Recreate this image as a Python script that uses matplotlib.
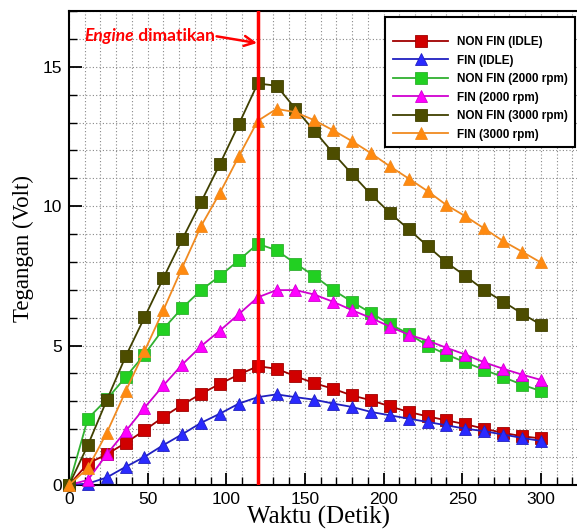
import numpy as np
import matplotlib
matplotlib.use("Agg")
import matplotlib.pyplot as plt
from matplotlib.ticker import MultipleLocator
from matplotlib.patches import Rectangle

# Data: tegangan (Volt) tiap 12 detik, 0 - 300 detik
waktu = np.arange(0, 301, 12)

non_fin_idle = [0, 0.77, 1.1, 1.51, 1.96, 2.44, 2.88, 3.27, 3.63, 3.96, 4.26, 4.17, 3.9,
                3.65, 3.45, 3.21, 3.04, 2.82, 2.62, 2.46, 2.32, 2.18, 2.02, 1.87, 1.75, 1.67]
fin_idle = [0, 0.05, 0.27, 0.65, 1.01, 1.43, 1.82, 2.23, 2.56, 2.92, 3.15, 3.25, 3.15,
            3.06, 2.92, 2.8, 2.62, 2.5, 2.38, 2.26, 2.14, 2.02, 1.93, 1.81, 1.69, 1.58]
non_fin_2000 = [0, 2.38, 3.07, 3.87, 4.68, 5.6, 6.35, 6.99, 7.5, 8.06, 8.65, 8.42, 7.94,
                7.5, 6.99, 6.57, 6.17, 5.77, 5.42, 5.0, 4.68, 4.4, 4.13, 3.87, 3.6, 3.37]
fin_2000 = [0, 0.18, 1.1, 1.93, 2.77, 3.57, 4.32, 4.98, 5.54, 6.13, 6.73, 6.99, 6.99,
            6.83, 6.57, 6.27, 5.99, 5.68, 5.39, 5.18, 4.92, 4.68, 4.4, 4.17, 3.96, 3.77]
non_fin_3000 = [0, 1.43, 3.04, 4.61, 6.01, 7.42, 8.81, 10.15, 11.52, 12.94, 14.4, 14.32, 13.49,
                12.7, 11.9, 11.15, 10.42, 9.76, 9.17, 8.57, 7.98, 7.5, 6.99, 6.58, 6.15, 5.75]
fin_3000 = [0, 0.6, 1.87, 3.36, 4.8, 6.27, 7.8, 9.29, 10.48, 11.79, 13.06, 13.49, 13.37,
            13.08, 12.72, 12.33, 11.9, 11.43, 10.99, 10.54, 10.04, 9.64, 9.2, 8.75, 8.37, 7.98]

series = [
    ("NON FIN (IDLE)", non_fin_idle, "s", "#a00000", "#d00000"),
    ("FIN (IDLE)", fin_idle, "^", "#2020c0", "#2a2aff"),
    ("NON FIN (2000 rpm)", non_fin_2000, "s", "#30b030", "#22d022"),
    ("FIN (2000 rpm)", fin_2000, "^", "#d000d0", "#ff00ff"),
    ("NON FIN (3000 rpm)", non_fin_3000, "s", "#404000", "#4d4d00"),
    ("FIN (3000 rpm)", fin_3000, "^", "#f08a20", "#ff8a10"),
]

waktu_mati = 120

fig = plt.figure(figsize=(5.77, 5.29), dpi=100)
ax = fig.add_axes([69 / 577, 44 / 529, 519 / 577, 474 / 529])

for label, y, marker, lc, mc in series:
    ax.plot(waktu, y, color=lc, lw=1.3, marker=marker, markersize=9,
            markerfacecolor=mc, markeredgecolor=lc, markeredgewidth=0.6,
            label=label, clip_on=False, zorder=3)

# garis saat engine dimatikan
ax.axvline(waktu_mati, color="red", lw=2.5, zorder=5)

t1 = ax.text(10, 16.1, "Engine", color="red", fontsize=12.5, fontweight="bold",
             fontstyle="italic", family="Lato", va="center", ha="left")
t2 = ax.annotate(" dimatikan", xy=(1, 0), xycoords=t1, color="red", fontsize=12.5,
                 fontweight="bold", family="Lato", va="bottom", ha="left")
ax.annotate("", xy=(waktu_mati - 0.5, 15.85), xytext=(1, 0.5), textcoords=t2,
            arrowprops=dict(arrowstyle="->", color="red", lw=1.8,
                            mutation_scale=18, shrinkA=1, shrinkB=0))

ax.set_xlim(0, 330)
ax.set_ylim(0, 17)
ax.xaxis.set_major_locator(MultipleLocator(50))
ax.xaxis.set_minor_locator(MultipleLocator(10))
ax.yaxis.set_major_locator(MultipleLocator(5))
ax.yaxis.set_minor_locator(MultipleLocator(1))
ax.grid(which="both", color="#888888", linestyle=(0, (1, 2)), lw=0.8)
ax.set_axisbelow(True)

ax.tick_params(which="major", direction="in", length=9, width=1.3,
               labelsize=12.5, pad=5)
ax.tick_params(which="minor", direction="in", length=6, width=1.0)
for lab in ax.get_xticklabels() + ax.get_yticklabels():
    lab.set_family("Liberation Sans")
for s in ax.spines.values():
    s.set_linewidth(1.5)

ax.set_xlabel("Waktu (Detik)", family="Liberation Serif", fontsize=18)
ax.set_ylabel("Tegangan (Volt)", family="Liberation Serif", fontsize=16.5)
ax.xaxis.set_label_coords(0.48, -0.044)
ax.yaxis.set_label_coords(-0.068, 0.5)

# kotak legenda
ax.add_patch(Rectangle((0.609, 0.713), 0.366, 0.274, transform=ax.transAxes,
                       facecolor="white", edgecolor="black", lw=1.5,
                       zorder=6, clip_on=False))
leg = ax.legend(loc="upper left", bbox_to_anchor=(0.624, 0.947), borderaxespad=0,
                prop=dict(family="Liberation Sans", weight="bold", size=8.5),
                handlelength=4.7, handletextpad=0.7, labelspacing=0.55,
                borderpad=0, frameon=False)
leg.set_zorder(7)

plt.savefig("out.png", dpi=100)
